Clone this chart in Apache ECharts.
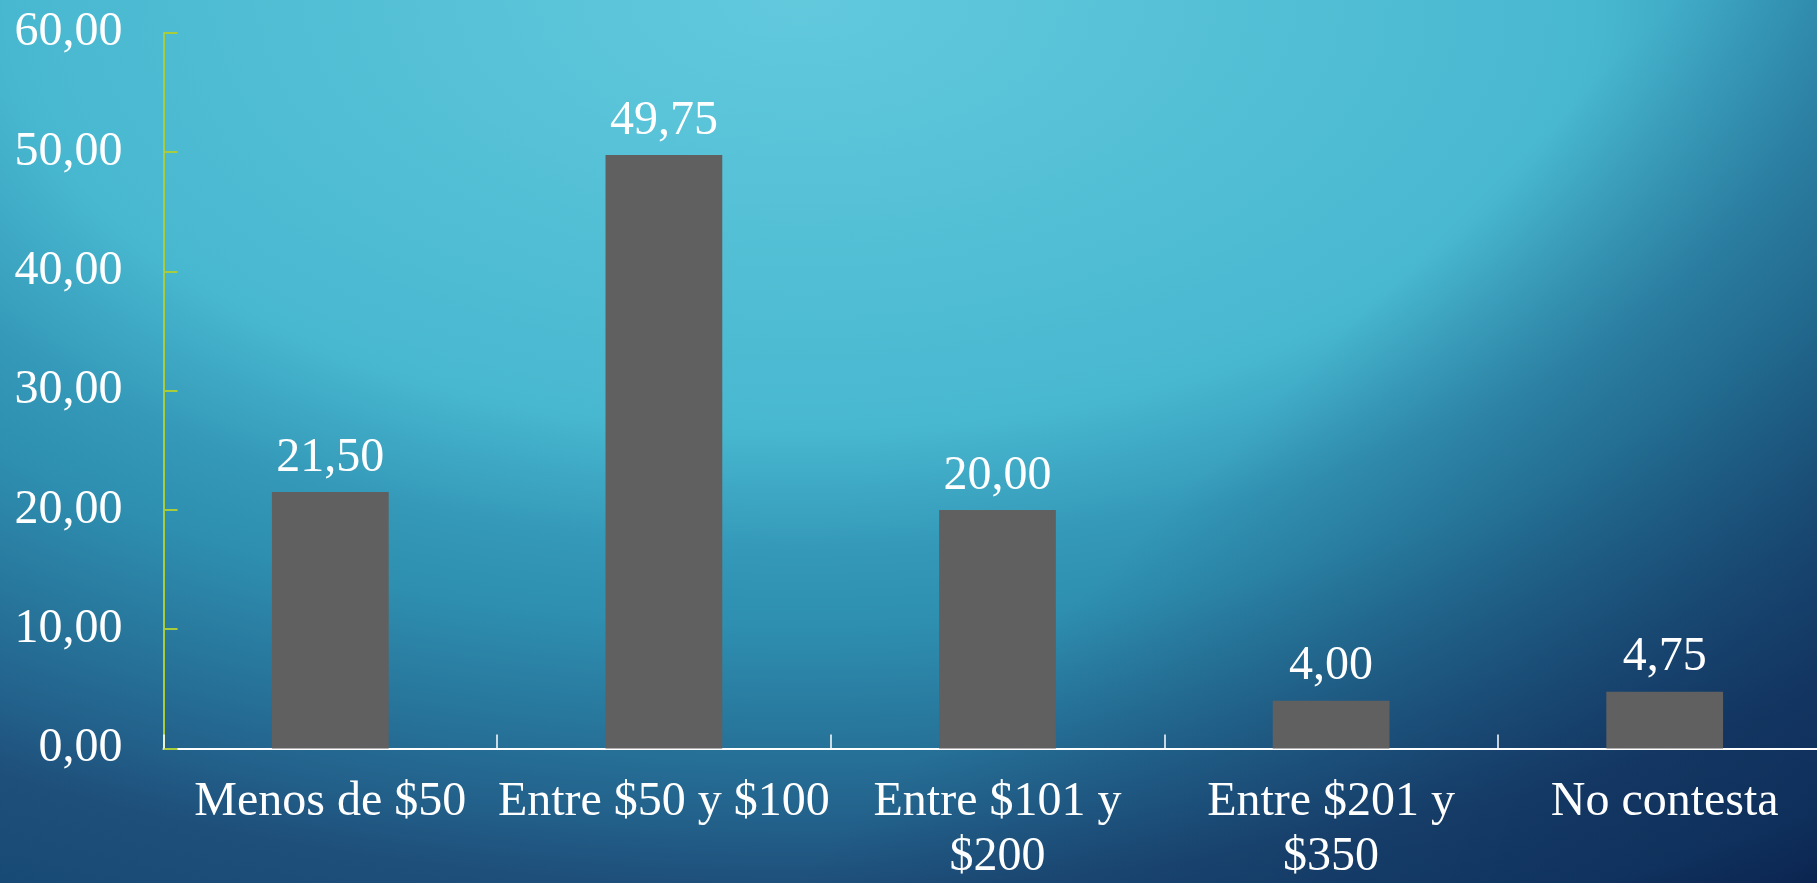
<!DOCTYPE html>
<html>
<head>
<meta charset="utf-8">
<script src="https://cdn.jsdelivr.net/npm/echarts@6/dist/echarts.min.js"></script>
<style>
  html, body { margin: 0; padding: 0; width: 1817px; height: 883px; overflow: hidden; }
  body {
    background:
      linear-gradient(135deg, rgba(11,36,80,0) 62%, rgba(11,36,80,0.55) 88%, rgba(11,36,80,0.75) 100%),
      radial-gradient(1930px 1044px at 44% 0%, #62C9DD 0%, #48B8D0 41%, #3498B8 53%, #2E8FB0 60%, #22608A 79%, #1E4F7A 85%, #174A75 94%, #0D2650 100%);
  }
  #chart { width: 1817px; height: 883px; }
</style>
</head>
<body>
<div id="chart"></div>
<script>
const categories = ['Menos de $50', 'Entre $50 y $100', 'Entre $101 y\n$200', 'Entre $201 y\n$350', 'No contesta'];
const values = [21.50, 49.75, 20.00, 4.00, 4.75];
const yMin = 0, yMax = 60, yStep = 10;

const fmt = v => Number(v).toFixed(2).replace('.', ',');
const fontFamily = "'Liberation Serif', 'Times New Roman', serif";

const chart = echarts.init(document.getElementById('chart'), null, { renderer: 'canvas' });
chart.setOption({
  backgroundColor: 'transparent',
  animation: false,
  grid: { left: 163.5, right: -14.5, top: 32.7, bottom: 134.5, containLabel: false, outerBoundsMode: 'none' },
  xAxis: {
    type: 'category',
    data: categories,
    axisLine: { show: true, lineStyle: { color: '#ffffff', width: 2 } },
    axisTick: { show: true, inside: true, length: 14, alignWithLabel: false, lineStyle: { color: '#ffffff', width: 1.5 } },
    axisLabel: {
      interval: 0, color: '#ffffff', fontFamily: fontFamily, fontSize: 48,
      lineHeight: 55, margin: 26
    },
    splitLine: { show: false }
  },
  yAxis: {
    type: 'value',
    min: yMin, max: yMax, interval: yStep,
    axisLine: { show: true, lineStyle: { color: '#A8CC3C', width: 2 } },
    axisTick: { show: true, inside: true, length: 14, lineStyle: { color: '#A8CC3C', width: 2 } },
    axisLabel: { color: '#ffffff', fontFamily: fontFamily, fontSize: 48, margin: 41, formatter: fmt },
    splitLine: { show: false }
  },
  series: [{
    type: 'bar',
    data: values,
    barWidth: '35%',
    itemStyle: { color: '#606060' },
    label: {
      show: true, position: 'top', distance: 10,
      color: '#ffffff', fontFamily: fontFamily, fontSize: 48,
      formatter: p => fmt(p.value)
    }
  }]
});
</script>
</body>
</html>
